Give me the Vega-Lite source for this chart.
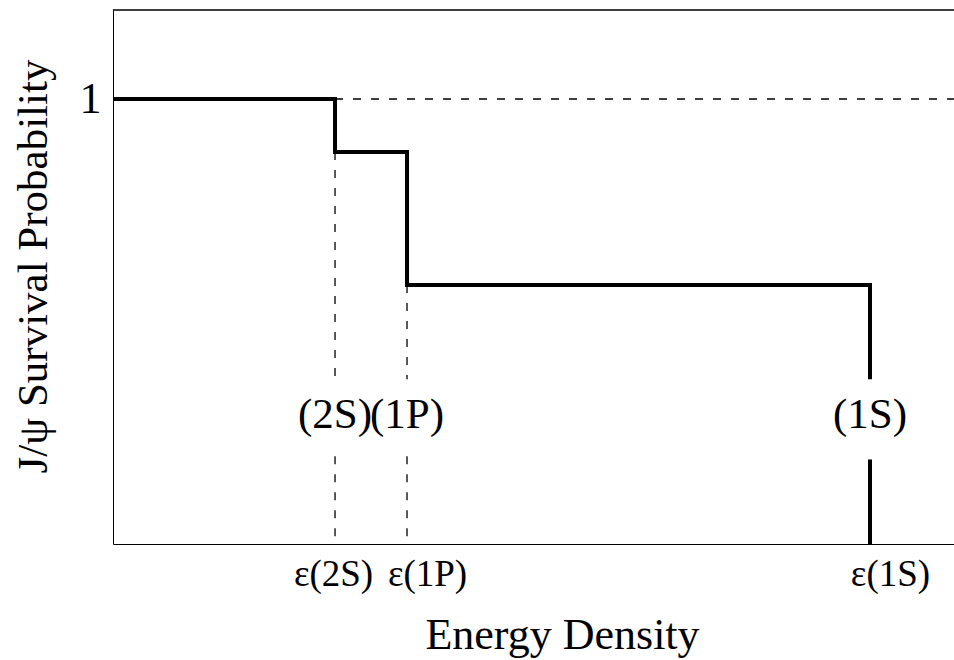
{
  "$schema": "https://vega.github.io/schema/vega-lite/v6.json",
  "width": 841,
  "height": 534,
  "autosize": {"type": "none"},
  "padding": {"left": 113, "top": 10, "right": 0, "bottom": 116},
  "config": {
    "view": {"stroke": null},
    "font": "Liberation Serif",
    "axis": {"grid": false}
  },
  "datasets": {
    "step": [
      {"i": 0, "e": 0, "p": 1},
      {"i": 1, "e": 26.4, "p": 1},
      {"i": 2, "e": 26.4, "p": 0.881},
      {"i": 3, "e": 34.96, "p": 0.881},
      {"i": 4, "e": 34.96, "p": 0.582},
      {"i": 5, "e": 90.01, "p": 0.582},
      {"i": 6, "e": 90.01, "p": 0.37}
    ],
    "segments": [
      {"kind": "dash", "e": 26.4, "e2": 100, "p": 1, "p2": 1},
      {"kind": "dash", "e": 26.4, "e2": 26.4, "p": 0.881, "p2": 0.37},
      {"kind": "dash", "e": 26.4, "e2": 26.4, "p": 0.197, "p2": 0},
      {"kind": "dash", "e": 34.96, "e2": 34.96, "p": 0.582, "p2": 0.37},
      {"kind": "dash", "e": 34.96, "e2": 34.96, "p": 0.197, "p2": 0},
      {"kind": "solid", "e": 90.01, "e2": 90.01, "p": 0.19, "p2": 0}
    ],
    "labels": [
      {"e": 26.4, "p": 0.2607, "label": "(2S)"},
      {"e": 34.96, "p": 0.2607, "label": "(1P)"},
      {"e": 90.01, "p": 0.2607, "label": "(1S)"}
    ]
  },
  "layer": [
    {
      "data": {"name": "step"},
      "mark": {"type": "line", "color": "black", "strokeWidth": 4, "strokeJoin": "miter", "strokeCap": "butt"},
      "encoding": {
        "x": {
          "field": "e", "type": "quantitative",
          "scale": {"domain": [0, 100], "nice": false, "zero": false},
          "axis": {
            "title": "Energy Density",
            "titleFontSize": 44,
            "titleFontWeight": "normal",
            "titleColor": "black",
            "titleX": 449,
            "titleY": 104,
            "titleAlign": "center",
            "titleBaseline": "alphabetic",
            "values": [26.4, 34.96, 90.01],
            "labelExpr": "datum.value < 30 ? 'ε(2S)' : (datum.value < 50 ? 'ε(1P)' : 'ε(1S)')",
            "labelFontSize": 37,
            "labelColor": "black",
            "labelBaseline": "alphabetic",
            "labelPadding": 41,
            "labelOffset": {"condition": {"test": "datum.value < 30", "value": -2}, "value": 20},
            "labelFlush": false,
            "labelOverlap": false,
            "ticks": false,
            "tickSize": 0,
            "domainColor": "black",
            "domainWidth": 1
          }
        },
        "y": {
          "field": "p", "type": "quantitative",
          "scale": {"domain": [0, 1.2], "nice": false, "zero": false},
          "axis": {
            "title": "J/ψ Survival Probability",
            "titleFontSize": 43,
            "titleFontWeight": "normal",
            "titleColor": "black",
            "titleAngle": 270,
            "titleX": -67,
            "titleY": 256,
            "titleAlign": "center",
            "titleBaseline": "alphabetic",
            "values": [1],
            "labelExpr": "'1'",
            "labelFontSize": 44,
            "labelColor": "black",
            "labelPadding": 12,
            "labelBaseline": "middle",
            "ticks": false,
            "tickSize": 0,
            "domainColor": "black",
            "domainWidth": 1
          }
        },
        "order": {"field": "i", "type": "quantitative"}
      }
    },
    {
      "data": {"name": "segments"},
      "transform": [{"filter": "datum.kind === 'dash'"}],
      "mark": {"type": "rule", "color": "black", "strokeWidth": 1.3, "strokeDash": [8, 10]},
      "encoding": {
        "x": {"field": "e", "type": "quantitative"},
        "x2": {"field": "e2"},
        "y": {"field": "p", "type": "quantitative"},
        "y2": {"field": "p2"}
      }
    },
    {
      "data": {"name": "segments"},
      "transform": [{"filter": "datum.kind === 'solid'"}],
      "mark": {"type": "rule", "color": "black", "strokeWidth": 4, "strokeCap": "butt"},
      "encoding": {
        "x": {"field": "e", "type": "quantitative"},
        "x2": {"field": "e2"},
        "y": {"field": "p", "type": "quantitative"},
        "y2": {"field": "p2"}
      }
    },
    {
      "data": {"name": "labels"},
      "mark": {"type": "text", "color": "black", "fontSize": 43, "align": "center", "baseline": "alphabetic"},
      "encoding": {
        "x": {"field": "e", "type": "quantitative"},
        "y": {"field": "p", "type": "quantitative"},
        "text": {"field": "label"}
      }
    },
    {
      "data": {"values": [{}]},
      "mark": {"type": "rule", "color": "black", "strokeWidth": 1.5},
      "encoding": {
        "y": {"datum": 1.2, "type": "quantitative"}
      }
    }
  ]
}
